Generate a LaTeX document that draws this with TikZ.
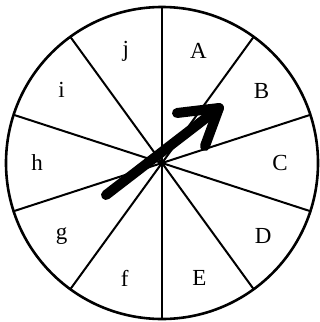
\documentclass[tikz,border=0pt]{standalone}
\usepackage{fontspec}
\setmainfont{Liberation Serif}
\usetikzlibrary{calc}
\begin{document}
\begin{tikzpicture}[x=1pt,y=-1pt,
  rim/.style={line width=2.6pt},
  spoke/.style={line width=2pt},
  lab/.style={font=\fontsize{23}{23}\selectfont, inner sep=0pt},
  pointer/.style={line width=10pt, line cap=round, line join=round}]
\useasboundingbox (0,0) rectangle (320,322);
\coordinate (O) at (162,163);
\draw[rim] (O) circle[radius=156pt];
\foreach \a in {90,54,18,-18,-54,-90,-126,-162,162,126}
  \draw[spoke] (O) -- ($(O)+(\a:156pt)$);
\foreach \a/\t/\r in {72/A/118, 36/B/123, 0/C/118, -36/D/125, -72/E/121,
                      -108/f/121, -144/g/124, 180/h/125, 144/i/124, 108/j/117}
  \node[lab] (L\t) at ($(O)+(\a:\r pt)$) {\t};
\coordinate (tail) at (106,195);
\coordinate (tip) at (219,108);
\coordinate (armA) at (177,113);
\coordinate (armB) at (205,146);
\draw[pointer] (tail) -- (tip);
\draw[pointer] (armA) -- (tip) -- (armB);
\end{tikzpicture}
\end{document}
